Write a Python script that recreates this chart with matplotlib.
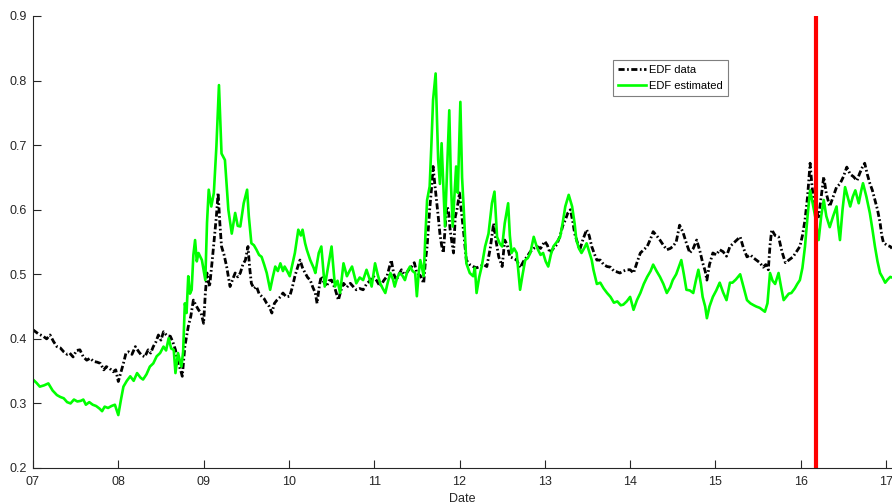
import matplotlib
matplotlib.use("Agg")
import matplotlib.pyplot as plt
import numpy as np

plt.rcParams['font.family'] = ['Liberation Sans', 'DejaVu Sans']

data_dates = [7.00,7.06,7.12,7.16,7.20,7.24,7.28,7.32,7.36,7.40,7.43,7.47,7.51,7.55,7.59,7.63,7.67,7.71,7.75,7.79,7.83,7.86,7.90,7.94,7.97,
8.00,8.03,8.06,8.09,8.12,8.16,8.20,8.24,8.27,8.31,8.35,8.38,8.41,8.44,8.47,8.50,8.53,8.57,8.61,8.64,8.67,8.70,8.73,8.75,8.78,8.82,8.85,8.88,8.91,8.94,8.97,
9.00,9.02,9.04,9.07,9.10,9.12,9.15,9.17,9.19,9.21,9.24,9.27,9.31,9.34,9.37,9.40,9.43,9.46,9.49,9.52,9.54,9.56,9.59,9.62,9.65,9.68,9.71,9.74,9.77,9.80,9.83,9.86,9.90,9.93,9.97,
10.01,10.04,10.07,10.10,10.13,10.16,10.19,10.22,10.25,10.28,10.31,10.33,10.36,10.38,10.41,10.44,10.47,10.50,10.54,10.58,10.61,10.64,10.68,10.72,10.76,10.79,10.83,10.87,10.91,10.95,10.99,
11.03,11.07,11.11,11.15,11.20,11.23,11.26,11.29,11.32,11.35,11.38,11.41,11.44,11.47,11.50,11.54,11.58,11.60,11.62,11.65,11.67,11.69,11.71,11.73,11.75,11.77,11.79,11.81,11.83,11.85,11.87,11.89,11.91,11.93,11.95,11.97,
12.00,12.02,12.05,12.08,12.12,12.16,12.20,12.24,12.28,12.32,12.36,12.40,12.43,12.46,12.50,12.53,12.56,12.59,12.63,12.67,12.71,12.75,12.79,12.83,12.87,12.91,12.95,
13.00,13.03,13.06,13.10,13.14,13.18,13.21,13.24,13.27,13.30,13.33,13.35,13.38,13.41,13.45,13.49,13.52,13.55,13.58,13.61,13.65,13.69,13.73,13.77,13.81,13.84,13.88,13.92,13.96,
14.00,14.04,14.08,14.12,14.16,14.20,14.24,14.27,14.31,14.35,14.39,14.43,14.47,14.50,14.54,14.58,14.62,14.66,14.70,14.74,14.78,14.82,14.85,14.88,14.90,14.93,14.97,
15.01,15.05,15.09,15.13,15.17,15.21,15.25,15.29,15.33,15.37,15.41,15.45,15.48,15.52,15.56,15.59,15.62,15.64,15.66,15.70,15.74,15.78,15.82,15.86,15.91,15.95,15.99,
16.02,16.05,16.08,16.11,16.13,16.15,16.18,16.21,16.24,16.27,16.30,16.34,16.38,16.42,16.46,16.50,16.54,16.58,16.62,16.66,16.69,16.72,16.75,16.78,16.81,16.84,16.87,16.90,16.93,16.95,16.97,
17.01,17.05,17.07]

edf_data = [0.414,0.408,0.404,0.400,0.406,0.396,0.388,0.386,0.380,0.376,0.378,0.372,0.382,0.383,0.372,0.367,0.370,0.365,0.364,0.362,0.352,0.357,0.354,0.349,0.352,
0.334,0.348,0.362,0.378,0.380,0.376,0.388,0.380,0.375,0.372,0.383,0.378,0.388,0.395,0.406,0.398,0.411,0.405,0.404,0.395,0.383,0.362,0.352,0.342,0.388,0.419,0.435,0.460,0.452,0.445,0.440,
0.424,0.470,0.502,0.481,0.520,0.548,0.590,0.626,0.580,0.543,0.530,0.512,0.481,0.492,0.502,0.496,0.502,0.515,0.522,0.543,0.510,0.486,0.478,0.481,0.470,0.466,0.462,0.455,0.450,0.440,0.455,0.460,0.465,0.471,0.465,
0.466,0.480,0.497,0.510,0.522,0.510,0.502,0.495,0.491,0.480,0.471,0.455,0.485,0.497,0.488,0.481,0.490,0.491,0.478,0.460,0.475,0.486,0.480,0.486,0.480,0.476,0.478,0.476,0.485,0.490,0.497,
0.490,0.481,0.490,0.497,0.522,0.500,0.491,0.500,0.507,0.500,0.502,0.508,0.512,0.518,0.502,0.498,0.486,0.520,0.543,0.600,0.630,0.667,0.640,0.615,0.590,0.563,0.545,0.533,0.570,0.605,0.600,0.569,0.550,0.533,0.589,0.600,
0.626,0.600,0.563,0.522,0.515,0.512,0.510,0.512,0.515,0.512,0.540,0.579,0.550,0.527,0.512,0.553,0.545,0.527,0.525,0.522,0.510,0.520,0.527,0.535,0.540,0.543,0.540,
0.551,0.545,0.533,0.540,0.546,0.560,0.575,0.584,0.595,0.600,0.580,0.563,0.550,0.538,0.555,0.569,0.560,0.543,0.532,0.522,0.522,0.515,0.512,0.511,0.505,0.504,0.502,0.505,0.507,
0.507,0.502,0.518,0.533,0.538,0.543,0.555,0.566,0.560,0.553,0.545,0.538,0.540,0.543,0.550,0.576,0.565,0.548,0.533,0.540,0.553,0.535,0.518,0.505,0.491,0.515,0.533,
0.530,0.538,0.535,0.528,0.543,0.548,0.553,0.558,0.540,0.527,0.530,0.525,0.522,0.518,0.511,0.515,0.507,0.545,0.569,0.560,0.558,0.535,0.518,0.522,0.527,0.535,0.543,
0.560,0.584,0.620,0.672,0.640,0.615,0.600,0.589,0.620,0.651,0.625,0.605,0.620,0.635,0.640,0.651,0.666,0.655,0.651,0.645,0.656,0.665,0.672,0.655,0.641,0.630,0.615,0.600,0.580,0.560,0.549,
0.545,0.543,0.540]

est_dates = [7.00,7.04,7.08,7.13,7.18,7.23,7.28,7.32,7.36,7.40,7.44,7.48,7.52,7.56,7.59,7.62,7.66,7.70,7.74,7.78,7.81,7.84,7.88,7.92,7.96,
8.00,8.03,8.06,8.10,8.14,8.18,8.22,8.26,8.29,8.33,8.37,8.41,8.45,8.49,8.53,8.56,8.59,8.62,8.65,8.67,8.70,8.74,8.76,8.78,8.80,8.82,8.84,8.86,8.88,8.90,8.92,8.94,8.98,
9.02,9.04,9.06,9.09,9.12,9.15,9.18,9.21,9.25,9.29,9.33,9.37,9.40,9.43,9.47,9.51,9.53,9.56,9.59,9.62,9.65,9.68,9.71,9.74,9.78,9.81,9.84,9.87,9.90,9.93,9.95,9.98,
10.01,10.04,10.07,10.11,10.14,10.16,10.19,10.21,10.25,10.29,10.31,10.35,10.38,10.42,10.46,10.50,10.54,10.57,10.60,10.64,10.68,10.71,10.74,10.79,10.83,10.87,10.91,10.94,10.97,
11.01,11.04,11.07,11.10,11.13,11.16,11.19,11.22,11.24,11.27,11.30,11.33,11.36,11.39,11.42,11.45,11.48,11.50,11.52,11.54,11.56,11.58,11.60,11.62,11.65,11.67,11.69,11.72,11.74,11.75,11.77,11.79,11.81,11.83,11.86,11.88,11.90,11.92,11.94,11.96,11.98,
12.01,12.03,12.05,12.08,12.12,12.16,12.18,12.20,12.23,12.26,12.30,12.34,12.38,12.41,12.44,12.47,12.50,12.53,12.57,12.59,12.61,12.64,12.67,12.69,12.71,12.74,12.77,12.80,12.83,12.87,12.90,12.92,12.95,12.98,
13.01,13.04,13.07,13.10,13.14,13.18,13.21,13.24,13.28,13.32,13.35,13.37,13.40,13.43,13.46,13.49,13.52,13.55,13.57,13.61,13.65,13.69,13.73,13.77,13.81,13.85,13.89,13.92,13.96,
14.00,14.02,14.04,14.08,14.12,14.16,14.20,14.24,14.27,14.31,14.35,14.39,14.43,14.47,14.50,14.54,14.58,14.60,14.63,14.66,14.70,14.74,14.77,14.80,14.83,14.85,14.88,14.90,14.93,14.97,
15.01,15.05,15.09,15.13,15.17,15.20,15.24,15.29,15.33,15.37,15.41,15.45,15.48,15.52,15.55,15.58,15.61,15.64,15.67,15.70,15.74,15.77,15.80,15.83,15.86,15.89,15.93,15.96,15.99,
16.02,16.05,16.08,16.11,16.14,16.17,16.19,16.21,16.24,16.27,16.30,16.34,16.38,16.42,16.44,16.46,16.49,16.52,16.55,16.58,16.61,16.64,16.68,16.71,16.73,16.77,16.81,16.84,16.87,16.90,16.93,16.96,16.99,
17.02,17.05,17.07]

edf_est = [0.337,0.332,0.326,0.328,0.331,0.320,0.313,0.310,0.308,0.302,0.300,0.306,0.303,0.304,0.306,0.298,0.302,0.298,0.296,0.292,0.288,0.295,0.293,0.296,0.298,
0.282,0.305,0.326,0.335,0.342,0.335,0.347,0.340,0.337,0.345,0.357,0.362,0.373,0.378,0.388,0.382,0.401,0.385,0.383,0.347,0.378,0.357,0.380,0.455,0.440,0.497,0.470,0.476,0.530,0.553,0.520,0.533,0.522,
0.491,0.580,0.631,0.605,0.626,0.698,0.793,0.687,0.677,0.600,0.563,0.595,0.575,0.574,0.610,0.631,0.590,0.548,0.545,0.538,0.530,0.527,0.515,0.502,0.476,0.495,0.512,0.505,0.517,0.505,0.512,0.505,
0.497,0.515,0.533,0.569,0.560,0.569,0.548,0.538,0.522,0.510,0.502,0.533,0.543,0.481,0.512,0.543,0.481,0.490,0.471,0.517,0.497,0.505,0.512,0.486,0.495,0.491,0.507,0.495,0.481,
0.517,0.500,0.486,0.478,0.471,0.488,0.502,0.492,0.481,0.495,0.502,0.498,0.491,0.505,0.512,0.505,0.502,0.466,0.500,0.522,0.510,0.497,0.560,0.615,0.636,0.700,0.770,0.811,0.720,0.677,0.640,0.703,0.640,0.574,0.680,0.754,0.640,0.574,0.620,0.667,0.626,
0.767,0.650,0.600,0.517,0.502,0.497,0.510,0.471,0.495,0.512,0.543,0.563,0.610,0.628,0.558,0.548,0.543,0.579,0.610,0.560,0.533,0.540,0.533,0.505,0.476,0.500,0.522,0.525,0.533,0.558,0.545,0.538,0.530,0.533,
0.520,0.512,0.530,0.543,0.550,0.558,0.580,0.605,0.623,0.605,0.578,0.553,0.540,0.533,0.540,0.548,0.535,0.522,0.507,0.485,0.487,0.478,0.471,0.465,0.456,0.458,0.452,0.453,0.458,
0.465,0.455,0.445,0.460,0.471,0.485,0.496,0.505,0.515,0.505,0.496,0.485,0.471,0.480,0.491,0.500,0.515,0.522,0.500,0.476,0.475,0.471,0.490,0.507,0.485,0.465,0.450,0.432,0.450,0.465,
0.475,0.487,0.472,0.460,0.487,0.487,0.492,0.500,0.480,0.460,0.455,0.452,0.450,0.448,0.445,0.442,0.455,0.502,0.490,0.485,0.502,0.480,0.460,0.465,0.470,0.471,0.478,0.485,0.491,
0.510,0.543,0.590,0.630,0.610,0.589,0.570,0.553,0.590,0.615,0.590,0.573,0.590,0.605,0.575,0.553,0.600,0.635,0.620,0.605,0.620,0.630,0.610,0.630,0.641,0.620,0.595,0.570,0.543,0.520,0.502,0.495,0.487,
0.492,0.496,0.495]

event_date = 16.18
xtick_years = [7, 8, 9, 10, 11, 12, 13, 14, 15, 16, 17]
xtick_labels = ['07', '08', '09', '10', '11', '12', '13', '14', '15', '16', '17']
ytick_vals = [0.2, 0.3, 0.4, 0.5, 0.6, 0.7, 0.8, 0.9]

fig = plt.figure(figsize=(8.92, 5.04), dpi=100)
ax = fig.add_axes([33/892, 1 - 468/504, 1 - 33/892, (468 - 16)/504])

axcol = '#262626'
ax.plot(data_dates, edf_data, color='black', linestyle=(0, (2.2, 0.9, 0.6, 0.9)),
        linewidth=2.0, label='EDF data')
ax.plot(est_dates, edf_est, color='#00ff00', linestyle='-', linewidth=1.9, label='EDF estimated')
ax.axvline(event_date, color='#ff0000', linewidth=3.0)

ax.set_xlim(7, 17.07)
ax.set_ylim(0.2, 0.9)
ax.set_xticks(xtick_years)
ax.set_xticklabels(xtick_labels)
ax.set_yticks(ytick_vals)
ax.set_yticklabels([f'{v:.1f}' for v in ytick_vals])
ax.tick_params(direction='in', length=6, width=0.8, colors=axcol, labelsize=9)
ax.tick_params(axis='x', pad=6)
ax.tick_params(axis='y', pad=4.5)
for s in ['top', 'right']:
    ax.spines[s].set_visible(False)
for s in ['left', 'bottom']:
    ax.spines[s].set_color(axcol)
    ax.spines[s].set_linewidth(0.8)
ax.set_xlabel('Date', fontsize=9, color=axcol, labelpad=3)

leg = ax.legend(loc='upper left', bbox_to_anchor=(0.675, 0.903), borderaxespad=0,
                fontsize=8, fancybox=False, framealpha=1, edgecolor='#7f7f7f',
                handlelength=2.5, handletextpad=0.35, borderpad=0.45, labelspacing=0.55)
leg.get_frame().set_linewidth(0.8)

fig.savefig('out.png', dpi=100)
